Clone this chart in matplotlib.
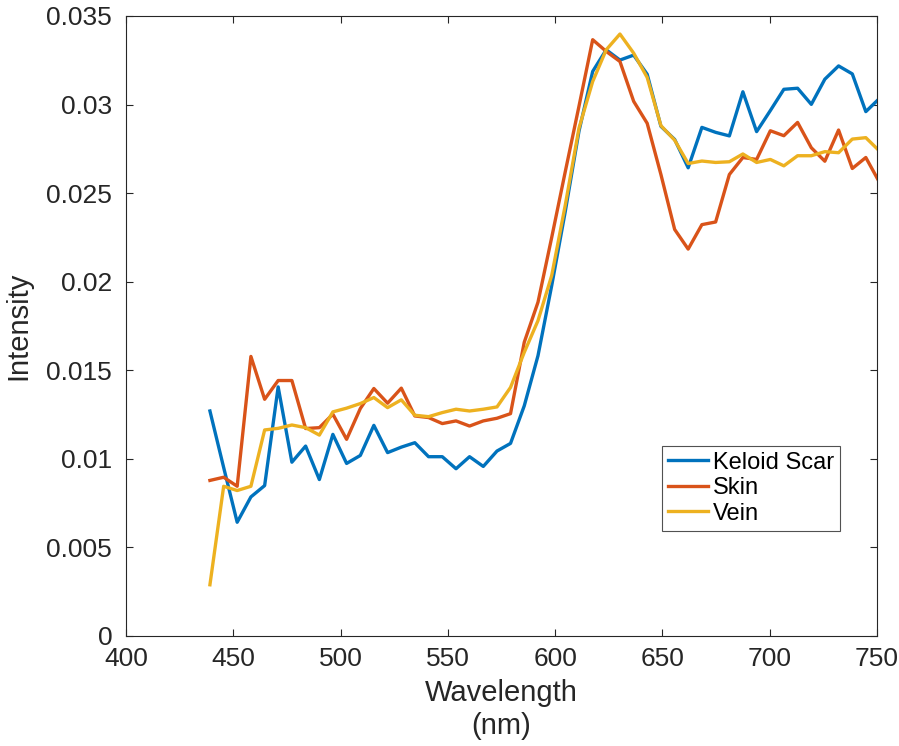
import matplotlib
matplotlib.use('Agg')
import matplotlib.pyplot as plt

plt.rcParams['font.family'] = ['Liberation Sans', 'DejaVu Sans']

# 波长 (nm)
wavelength = [439.1, 445.5, 451.8, 458.2, 464.6, 470.9, 477.3, 483.7, 490.1, 496.4,
              502.8, 509.2, 515.5, 521.9, 528.3, 534.6, 541.0, 547.4, 553.8, 560.1,
              566.5, 572.9, 579.2, 585.6, 592.0, 598.4, 604.7, 611.1, 617.5, 623.8,
              630.2, 636.6, 642.9, 649.3, 655.7, 662.0, 668.4, 674.8, 681.2, 687.5,
              693.9, 700.3, 706.6, 713.0, 719.4, 725.7, 732.1, 738.5, 744.8, 751.2]

keloid = [0.01270, 0.00951, 0.00642, 0.00785, 0.00849, 0.01406, 0.00981, 0.01072, 0.00883, 0.01138,
          0.00974, 0.01019, 0.01189, 0.01035, 0.01066, 0.01091, 0.01012, 0.01012, 0.00944, 0.01012,
          0.00957, 0.01044, 0.01087, 0.01299, 0.01582, 0.01978, 0.02395, 0.02849, 0.03187, 0.03309,
          0.03251, 0.03279, 0.03171, 0.02877, 0.02803, 0.02643, 0.02871, 0.02843, 0.02823, 0.03072,
          0.02847, 0.02966, 0.03086, 0.03092, 0.03001, 0.03143, 0.03218, 0.03173, 0.02960, 0.03035]

skin = [0.00878, 0.00896, 0.00845, 0.01578, 0.01336, 0.01442, 0.01442, 0.01171, 0.01176, 0.01252,
        0.01110, 0.01284, 0.01397, 0.01314, 0.01399, 0.01242, 0.01233, 0.01199, 0.01214, 0.01185,
        0.01214, 0.01229, 0.01255, 0.01658, 0.01884, 0.02250, 0.02620, 0.02990, 0.03366, 0.03300,
        0.03243, 0.03018, 0.02894, 0.02605, 0.02295, 0.02184, 0.02322, 0.02337, 0.02605, 0.02701,
        0.02690, 0.02852, 0.02824, 0.02899, 0.02756, 0.02680, 0.02856, 0.02639, 0.02701, 0.02560]

vein = [0.00289, 0.00845, 0.00821, 0.00845, 0.01163, 0.01172, 0.01191, 0.01176, 0.01134, 0.01265,
        0.01286, 0.01312, 0.01346, 0.01289, 0.01333, 0.01246, 0.01238, 0.01261, 0.01280, 0.01270,
        0.01280, 0.01293, 0.01403, 0.01601, 0.01780, 0.02035, 0.02431, 0.02866, 0.03130, 0.03309,
        0.03398, 0.03290, 0.03153, 0.02881, 0.02799, 0.02667, 0.02681, 0.02673, 0.02677, 0.02721,
        0.02673, 0.02690, 0.02654, 0.02711, 0.02711, 0.02734, 0.02728, 0.02805, 0.02813, 0.02737]

labels = ['Keloid Scar', 'Skin', 'Vein']
colors = ['#0072BD', '#D95319', '#EDB120']

fig = plt.figure(figsize=(8.99, 7.46), dpi=100)
ax = fig.add_axes([0.1402, 0.1475, 0.8353, 0.8311])

for series, lab, col in zip([keloid, skin, vein], labels, colors):
    ax.plot(wavelength, series, color=col, linewidth=2.4, label=lab)

ax.set_xlim(400, 750)
ax.set_ylim(0, 0.035)
ax.set_xticks([400, 450, 500, 550, 600, 650, 700, 750])
ax.set_yticks([0, 0.005, 0.01, 0.015, 0.02, 0.025, 0.03, 0.035])
ax.set_yticklabels(['0', '0.005', '0.01', '0.015', '0.02', '0.025', '0.03', '0.035'])

ax.tick_params(direction='in', length=5, width=0.8, colors='#262626',
               labelsize=19, top=True, right=True)
ax.tick_params(axis='y', pad=10)
ax.tick_params(axis='x', pad=8)
for sp in ax.spines.values():
    sp.set_color('#262626')
    sp.set_linewidth(0.8)

ax.set_xlabel('Wavelength\n(nm)', fontsize=21, color='#262626', linespacing=1.2, labelpad=6)
ax.set_ylabel('Intensity', fontsize=21, color='#262626', labelpad=10)

leg = ax.legend(loc='upper left', bbox_to_anchor=(0.714, 0.307), fontsize=17,
                frameon=True, fancybox=False, edgecolor='#262626',
                handlelength=1.7, handletextpad=0.2, borderpad=0.25,
                labelspacing=0.15, borderaxespad=0)
leg.get_frame().set_linewidth(0.8)

plt.savefig('out.png', dpi=100)
plt.close()
